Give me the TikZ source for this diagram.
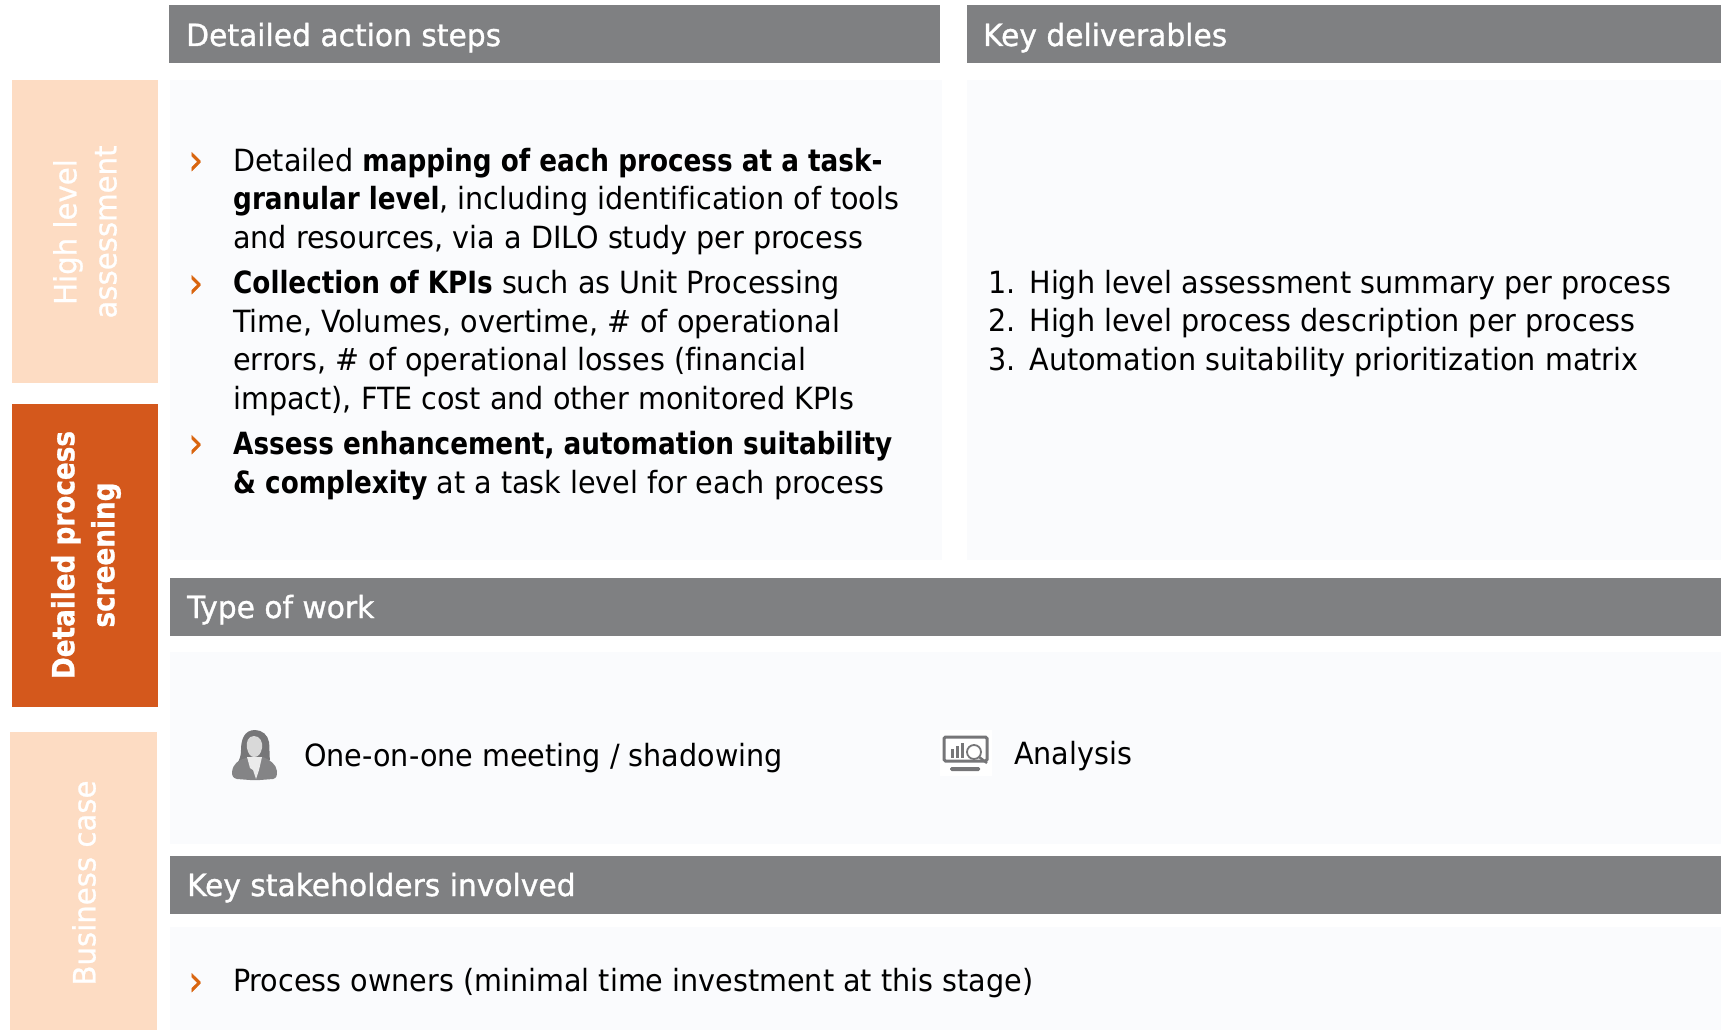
\documentclass[tikz,border=0pt]{standalone}
\usepackage{fontspec}
\setmainfont{DejaVu Sans Condensed}[Ligatures=NoCommon,FakeStretch=1.04,BoldFont={DejaVu Sans Condensed Bold},BoldFeatures={FakeStretch=0.954}]
\newfontfamily\hdrfont{DejaVu Sans Condensed}[Ligatures=NoCommon,FakeStretch=1.08,FakeBold=1]
\newfontfamily\sidefont{DejaVu Sans Condensed}[FakeStretch=1.06,FakeBold=0.8,BoldFont={DejaVu Sans Condensed Bold},BoldFeatures={FakeStretch=0.954}]
\newfontfamily\chevfont{DejaVu Sans Condensed}[FakeBold=0.6]
\definecolor{peach}{HTML}{FDDCC3}
\definecolor{burnt}{HTML}{D4581C}
\definecolor{hdrgrey}{HTML}{7F8082}
\definecolor{bodybg}{HTML}{FAFBFD}
\definecolor{chev}{HTML}{D9650F}
\definecolor{icongrey}{HTML}{767678}
\tikzset{
  x=1pt,y=-1pt,
  body/.style={anchor=base west,inner sep=0pt,font=\fontsize{30.6}{38.5}\selectfont,text=black,align=left},
  hdr/.style={anchor=base west,inner sep=0pt,font=\hdrfont\fontsize{30.6}{36}\selectfont,text=white},
  bul/.style={anchor=base west,inner sep=0pt,font=\chevfont\fontsize{42}{44}\selectfont,text=chev},
  side/.style={rotate=90,inner sep=0pt,align=center,font=\sidefont\fontsize{30.6}{40}\selectfont,text=white},
}
\begin{document}
\begin{tikzpicture}
\useasboundingbox (0,0) rectangle (1721,1030);
\fill[white] (0,0) rectangle (1721,1030);
% side boxes
\fill[peach] (12,80) rectangle (158,383);
\fill[burnt] (12,404) rectangle (158,707);
\fill[peach] (10,732) rectangle (157,1030);
\node[side] (s1) at (85,232) {High level\\assessment};
\node[side,font=\sidefont\fontsize{30.6}{40}\selectfont\bfseries] (s2) at (86,555) {Detailed process\\screening};
\node[side] (s3) at (84,883) {Business case};
% panels
\fill[bodybg] (170,80) rectangle (942,560);
\fill[bodybg] (967,80) rectangle (1721,560);
\fill[bodybg] (170,652) rectangle (1721,844);
\fill[bodybg] (170,927) rectangle (1721,1030);
% headers
\fill[hdrgrey] (169,5) rectangle (940,63);
\fill[hdrgrey] (967,5) rectangle (1721,63);
\fill[hdrgrey] (170,578) rectangle (1721,636);
\fill[hdrgrey] (170,856) rectangle (1721,914);
\node[hdr] (h1) at (186,46) {Detailed action steps};
\node[hdr] (h2) at (983,46) {Key deliverables};
\node[hdr] (h3) at (187,618) {Type of work};
\node[hdr] (h4) at (187,896) {Key stakeholders involved};
% bullets
\node[bul] (b1) at (188,174) {›};
\node[bul] (b2) at (188,297) {›};
\node[bul] (b3) at (188,457) {›};
\node[bul] (b4) at (188,995) {›};
\node[body] (t1) at (233,248) {Detailed \textbf{mapping of each process at a task-}\\\textbf{granular level}, including identification of tools\\and resources, via a DILO study per process};
\node[body] (t2) at (233,409) {\textbf{Collection of KPIs} such as Unit Processing\\Time, Volumes, overtime, \# of operational\\errors, \# of operational losses (financial\\impact), FTE cost and other monitored KPIs};
\node[body] (t3) at (233,493) {\textbf{Assess enhancement, automation suitability}\\\textbf{\& complexity} at a task level for each process};
\node[body] (t4) at (233,991) {Process owners (minimal time investment at this stage)};
\node[body] (d1) at (988,370) {1.\hspace{14pt}High level assessment summary per process\\2.\hspace{14pt}High level process description per process\\3.\hspace{14pt}Automation suitability prioritization matrix};
\node[body] (w1) at (304,766) {One-on-one meeting / shadowing};
\node[body] (w2) at (1014,764) {Analysis};
% person icon
\fill[icongrey] (255,730) .. controls (244,730) and (241,740) .. (241,750) .. controls (241,757) and (239,760) .. (238,762) .. controls (245,764) and (265,764) .. (270,760) .. controls (269,755) and (270,748) .. (269,742) .. controls (268,735) and (262,730) .. (255,730) -- cycle;
\fill[icongrey!90] (246,758) .. controls (238,760) and (233,764) .. (232,772) .. controls (232,776) and (233,778) .. (237,779) -- (250,780) -- (260,780) -- (273,779) .. controls (277,778) and (277,775) .. (277,771) .. controls (276,764) and (270,760) .. (263,757) -- cycle;
\fill[white!85!black] (254,736) .. controls (248,736) and (246,742) .. (247,748) .. controls (248,754) and (251,757) .. (254,757) .. controls (258,757) and (261,754) .. (262,748) .. controls (263,742) and (260,736) .. (254,736) -- cycle;
\fill[white!92!black] (247,757) -- (262,757) -- (259,770) -- (256,779) -- (253,770) -- (250,768) -- cycle;
% analysis icon
\fill[white] (940,730) rectangle (992,776);
\draw[icongrey,line width=3pt,rounded corners=1.5pt] (944,737) rectangle (987,761);
\fill[icongrey] (951,749) rectangle (954,758);
\fill[icongrey] (956,746) rectangle (959,758);
\fill[icongrey] (961,743) rectangle (964,758);
\draw[icongrey,line width=1.8pt,fill=white] (974,752) circle (7);
\draw[icongrey,line width=2.5pt] (979,757) -- (987,763);
\fill[icongrey,rounded corners=1.5pt] (950,767) rectangle (980,771);
\end{tikzpicture}
\end{document}
